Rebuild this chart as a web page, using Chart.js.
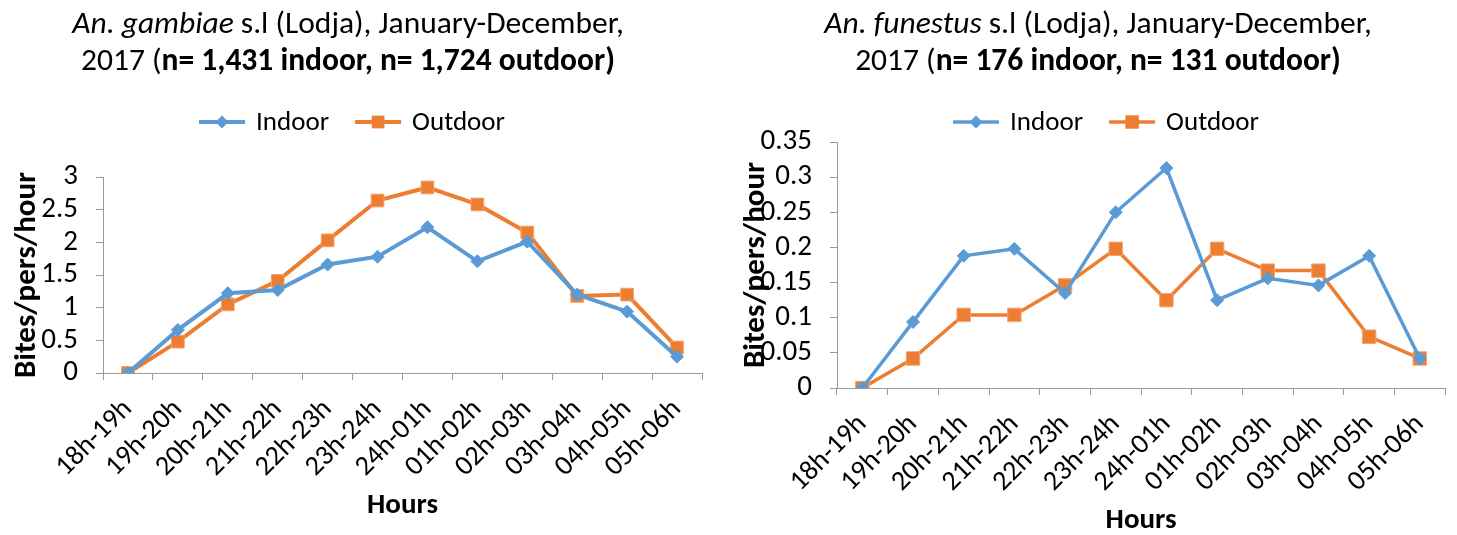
<!DOCTYPE html>
<html>
<head>
<meta charset="utf-8">
<script src="https://cdn.jsdelivr.net/npm/chart.js@4/dist/chart.umd.min.js"></script>
<style>
  html, body { margin: 0; padding: 0; background: #fff; }
  #wrap { position: relative; width: 1457px; height: 535px; overflow: hidden; }
  canvas { position: absolute; top: 0; }
</style>
</head>
<body>
<div id="wrap">
  <canvas id="gambiae" width="725" height="535" style="left:0"></canvas>
  <canvas id="funestus" width="732" height="535" style="left:725px"></canvas>
</div>
<script>
// Hourly biting rates (bites/person/hour), Lodja, Jan-Dec 2017
const hours = ['18h-19h', '19h-20h', '20h-21h', '21h-22h', '22h-23h', '23h-24h',
               '24h-01h', '01h-02h', '02h-03h', '03h-04h', '04h-05h', '05h-06h'];
const seriesNames = ['Indoor', 'Outdoor'];

const gambiaeIndoor  = [0, 0.66, 1.22, 1.27, 1.66, 1.78, 2.23, 1.71, 2.01, 1.20, 0.94, 0.25];
const gambiaeOutdoor = [0, 0.48, 1.05, 1.41, 2.03, 2.64, 2.84, 2.58, 2.15, 1.18, 1.20, 0.39];

const funestusIndoor  = [0, 0.094, 0.188, 0.198, 0.135, 0.250, 0.313, 0.125, 0.156, 0.146, 0.188, 0.042];
const funestusOutdoor = [0, 0.042, 0.104, 0.104, 0.146, 0.198, 0.125, 0.198, 0.167, 0.167, 0.073, 0.042];

// y-axis tick ranges
const gambiaeTicks  = { min: 0, max: 3,    step: 0.5 };
const funestusTicks = { min: 0, max: 0.35, step: 0.05 };

// Chart titles as styled text runs (one array per line)
const gambiaeTitle = [
  [{ t: 'An. gambiae', s: 'italic' }, { t: ' s.l (Lodja), January-December,', s: '' }],
  [{ t: '2017 (', s: '' }, { t: 'n= 1,431 indoor, n= 1,724 outdoor)', s: 'bold' }]
];
const funestusTitle = [
  [{ t: 'An. funestus', s: 'italic' }, { t: ' s.l (Lodja), January-December,', s: '' }],
  [{ t: '2017 (', s: '' }, { t: 'n= 176 indoor, n= 131 outdoor)', s: 'bold' }]
];

const FONT = 'Carlito, Calibri, Lato, "Open Sans", sans-serif';
const BLUE = '#5B9BD5';
const ORANGE = '#ED7D31';
const AXIS = '#9a9a9a';

function drawMarker(ctx, style, r, x, y) {
  ctx.beginPath();
  if (style === 'rectRot') {
    ctx.moveTo(x, y - r); ctx.lineTo(x + r, y); ctx.lineTo(x, y + r); ctx.lineTo(x - r, y);
  } else {
    const h = r * Math.SQRT1_2;
    ctx.rect(x - h, y - h, 2 * h, 2 * h);
  }
  ctx.closePath();
  ctx.fill();
}

// Draws the multi-style title and a line+marker legend above the plot
const headerPlugin = {
  id: 'header',
  afterDraw(chart, args, opts) {
    const ctx = chart.ctx;
    ctx.save();
    ctx.fillStyle = '#000';
    ctx.textBaseline = 'middle';
    ctx.textAlign = 'left';
    opts.lines.forEach((runs, i) => {
      let w = 0;
      const widths = runs.map(r => {
        ctx.font = `${r.s} ${opts.titleSize}px ${FONT}`;
        const m = ctx.measureText(r.t).width;
        w += m;
        return m;
      });
      let x = opts.titleX - w / 2;
      runs.forEach((r, k) => {
        ctx.font = `${r.s} ${opts.titleSize}px ${FONT}`;
        ctx.fillText(r.t, x, opts.titleY[i]);
        x += widths[k];
      });
    });

    ctx.font = `${opts.legendSize}px ${FONT}`;
    const ds = chart.data.datasets;
    const tws = ds.map(d => ctx.measureText(d.label).width);
    const total = tws.reduce((a, tw) => a + opts.swatch + opts.swatchGap + tw, 0) + opts.itemGap * (ds.length - 1);
    let x = opts.legendX - total / 2;
    const y = opts.legendY;
    ds.forEach((d, i) => {
      ctx.strokeStyle = d.borderColor;
      ctx.lineWidth = d.borderWidth;
      ctx.beginPath();
      ctx.moveTo(x, y);
      ctx.lineTo(x + opts.swatch, y);
      ctx.stroke();
      ctx.fillStyle = d.borderColor;
      drawMarker(ctx, d.pointStyle, d.pointRadius, x + opts.swatch / 2, y);
      x += opts.swatch + opts.swatchGap;
      ctx.fillStyle = '#000';
      ctx.fillText(d.label, x, y + 1);
      x += tws[i] + opts.itemGap;
    });
    ctx.restore();
  }
};

// Plain number labels: 3, 2.5, 0.35, 0.3 ...
const plainNumber = v => String(Number(Number(v).toFixed(3)));

function makeChart(id, indoor, outdoor, ticks, title, lay) {
  return new Chart(document.getElementById(id), {
    type: 'line',
    data: {
      labels: hours,
      datasets: [
        { label: seriesNames[0], data: indoor, borderColor: BLUE, backgroundColor: BLUE,
          borderWidth: lay.lineWidth, pointStyle: 'rectRot', pointRadius: lay.diamond,
          pointBackgroundColor: BLUE, pointBorderColor: BLUE, pointBorderWidth: 1, tension: 0 },
        { label: seriesNames[1], data: outdoor, borderColor: ORANGE, backgroundColor: ORANGE,
          borderWidth: lay.lineWidth, pointStyle: 'rect', pointRadius: lay.square,
          pointBackgroundColor: ORANGE, pointBorderColor: '#F4A46E', pointBorderWidth: 1, tension: 0 }
      ]
    },
    options: {
      responsive: false,
      animation: false,
      devicePixelRatio: 1,
      layout: { padding: { top: lay.top, right: lay.right, left: 0, bottom: 0 } },
      plugins: {
        legend: { display: false },
        tooltip: { enabled: false },
        header: {
          lines: title, titleSize: 31.5, titleX: lay.titleX, titleY: [25, 62],
          legendSize: 27, legendX: lay.legendX, legendY: 122,
          swatch: 46, swatchGap: 11, itemGap: 26
        }
      },
      scales: {
        x: {
          offset: true,
          afterFit: s => { s.height = lay.xHeight; },
          grid: { offset: true, drawOnChartArea: false, drawTicks: true, tickLength: 7, color: AXIS },
          border: { display: true, color: AXIS, width: 1 },
          ticks: { autoSkip: false, maxRotation: 45, minRotation: 45, padding: lay.xPad, color: '#000',
                   font: { family: FONT, size: 28 } },
          title: { display: true, text: 'Hours', color: '#000',
                   font: { family: FONT, size: 29, weight: 'bold', lineHeight: 1 },
                   padding: { top: 0, bottom: lay.hoursPad } }
        },
        y: {
          min: ticks.min, max: ticks.max,
          afterFit: s => { s.width = lay.yWidth; },
          grid: { drawOnChartArea: false, drawTicks: true, tickLength: 7, color: AXIS },
          border: { display: true, color: AXIS, width: 1 },
          ticks: { stepSize: ticks.step, autoSkip: false, padding: 18, color: '#000', callback: plainNumber,
                   font: { family: FONT, size: 29 } },
          title: { display: true, text: 'Bites/pers/hour', color: '#000',
                   font: { family: FONT, size: 31, weight: 'bold', lineHeight: 1 },
                   padding: { top: lay.yTitlePad, bottom: 0 } }
        }
      }
    },
    plugins: [headerPlugin]
  });
}

makeChart('gambiae', gambiaeIndoor, gambiaeOutdoor, gambiaeTicks, gambiaeTitle, {
  top: 177, right: 23, xHeight: 162, yWidth: 103, xPad: 13, hoursPad: 15, yTitlePad: 12,
  titleX: 348, legendX: 352, lineWidth: 4, diamond: 6.5, square: 9
});
makeChart('funestus', funestusIndoor, funestusOutdoor, funestusTicks, funestusTitle, {
  top: 142, right: 4, xHeight: 147, yWidth: 112, xPad: 13, hoursPad: 0, yTitlePad: 16,
  titleX: 373, legendX: 381, lineWidth: 3.5, diamond: 6.5, square: 9.5
});
</script>
</body>
</html>
